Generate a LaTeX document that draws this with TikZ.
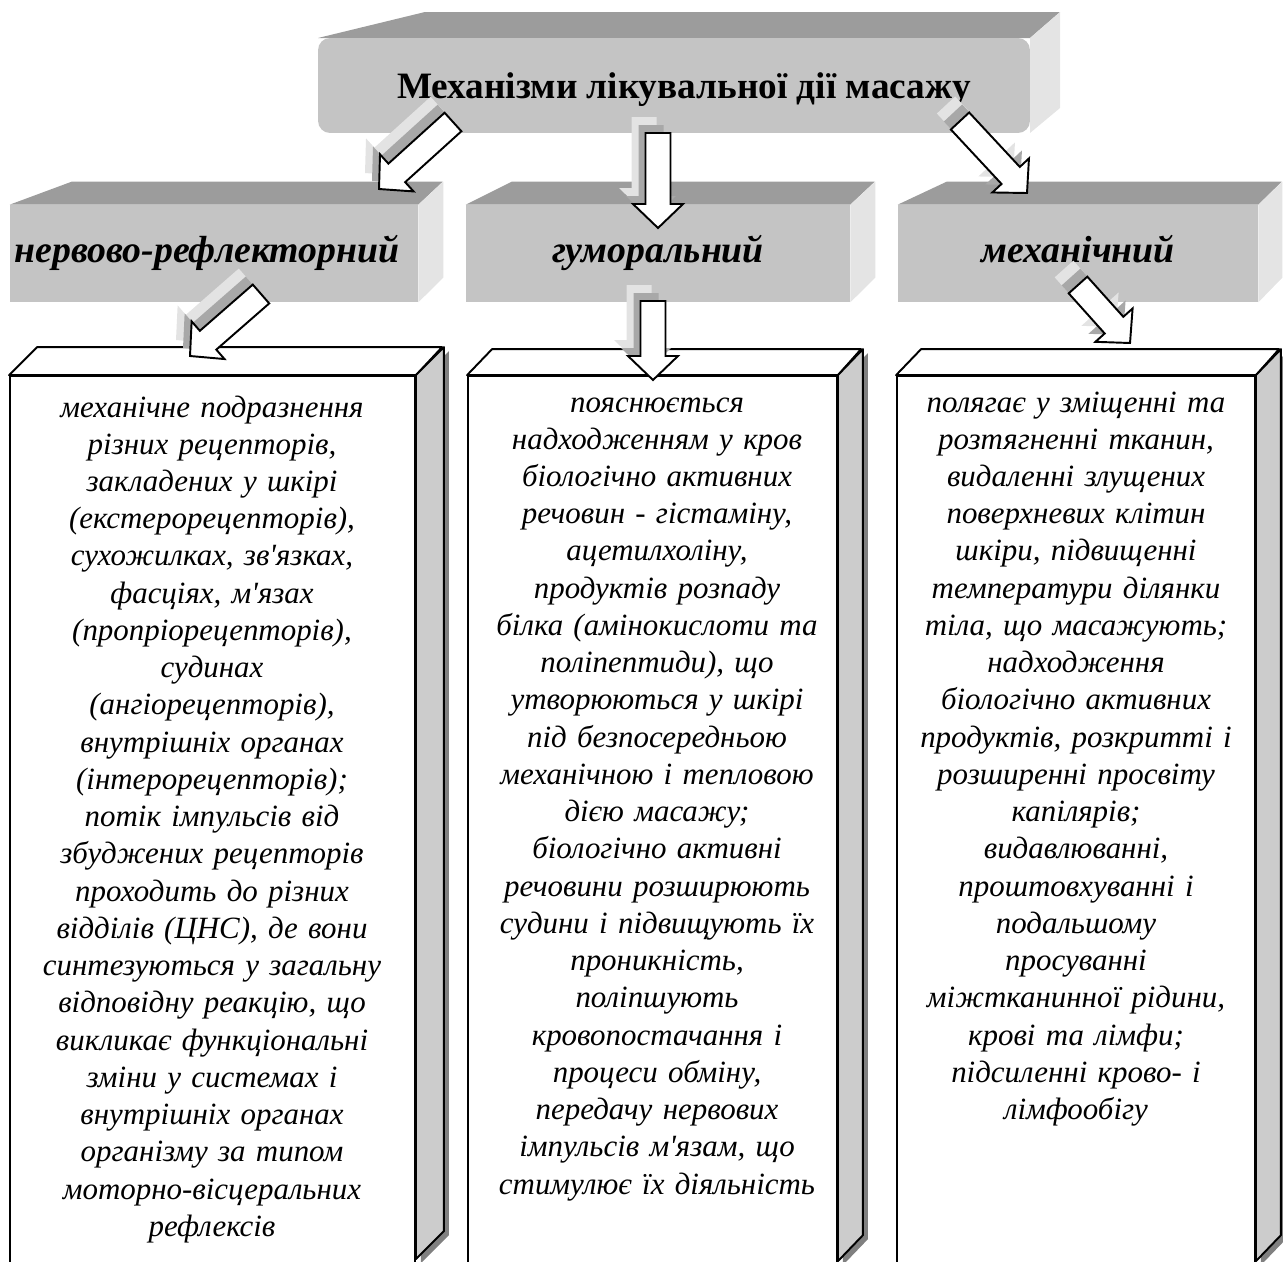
\documentclass[tikz,border=0pt]{standalone}
\usepackage{fontspec}
\setmainfont{Liberation Serif}
\usepackage{tikz}
\usetikzlibrary{calc}

\definecolor{frontgray}{HTML}{C4C4C4}
\definecolor{topgray}{HTML}{9C9C9C}
\definecolor{sidegray}{HTML}{E4E4E4}
\definecolor{wallgray}{HTML}{CCCCCC}
\definecolor{shadegray}{HTML}{808080}
\definecolor{shadelight}{HTML}{E3E3E3}
\definecolor{shademid}{HTML}{A8A8A8}

% block arrow from tail #2 to tip #3
\newcommand{\blockarrow}[3]{%
  \coordinate (hb) at ($(#3)!0.48cm!(#2)$);
  \path[#1] ($(#2)!0.25cm!90:(#3)$) -- ($(hb)!0.25cm!90:(#3)$)
    -- ($(hb)!0.5cm!90:(#3)$) -- (#3)
    -- ($(hb)!0.5cm!-90:(#3)$) -- ($(hb)!0.25cm!-90:(#3)$)
    -- ($(#2)!0.25cm!-90:(#3)$) -- cycle;}
\newcommand{\shadedarrow}[2]{%
  \begin{scope}[transform canvas={shift={(-0.28cm,0.32cm)}}]
    \blockarrow{fill=shadelight}{#1}{#2}
  \end{scope}
  \begin{scope}[transform canvas={shift={(-0.14cm,0.16cm)}}]
    \blockarrow{fill=shademid}{#1}{#2}
  \end{scope}
  \blockarrow{arrowbody}{#1}{#2}}

\begin{document}
\begin{tikzpicture}[x=0.02cm, y=-0.02cm,
  titlebox/.style={fill=frontgray, rounded corners=0.24cm, inner sep=0pt,
    minimum width=14.24cm, minimum height=1.9cm,
    text height=15pt, text depth=0pt,
    font=\fontsize{21.2}{24}\selectfont\bfseries},
  midbox/.style={fill=frontgray, inner sep=0pt, minimum height=1.94cm,
    text height=15pt, text depth=5pt,
    font=\fontsize{21.5}{24}\selectfont\bfseries\itshape},
  lowbox/.style={fill=white, draw=black, line width=1.1pt, inner sep=0pt,
    minimum height=17.78cm},
  lowtop/.style={fill=white, draw=black, line width=1.1pt, line join=round},
  lowside/.style={fill=wallgray, draw=black, line width=1.1pt, line join=round},
  bodytext/.style={anchor=base, inner sep=0pt, text width=7.9cm, align=center,
    font=\fontsize{17.6}{21.2}\selectfont\itshape},
  arrowbody/.style={fill=white, draw=black, line width=1.1pt}]

  \useasboundingbox (0,0) rectangle (1283,1261);
  \clip (0,0) rectangle (1283,1261);

  %--- Title box ------------------------------------------------------------
  \coordinate (tnw) at (318,38);
  \coordinate (tne) at (1030,38);
  \fill[topgray] (tnw) -- ++(107,-26) -- ++(635,0) -- (tne) -- cycle;
  \fill[sidegray] (tne) -- ++(30,-26) -- ++(0,96) -- (1030,133) -- cycle;
  \node[titlebox] (title) at (674,85.5)
    {\hspace*{0.4cm}Механізми лікувальної дії масажу};

  %--- Middle boxes ---------------------------------------------------------
  \node[midbox, minimum width=8.16cm] (nerv) at (214,253.5)
    {\hspace*{-0.28cm}нервово-рефлекторний};
  \fill[topgray] (nerv.north west) -- ++(62,-23) -- ++(371,0) -- (nerv.north east) -- cycle;
  \fill[sidegray] (nerv.north east) -- ++(25,-23) -- ++(0,96) -- (nerv.south east) -- cycle;

  \node[midbox, minimum width=7.68cm] (humor) at (658,253.5) {гуморальний};
  \fill[topgray] (humor.north west) -- ++(46,-23) -- ++(363,0) -- (humor.north east) -- cycle;
  \fill[sidegray] (humor.north east) -- ++(25,-23) -- ++(0,96) -- (humor.south east) -- cycle;

  \node[midbox, minimum width=7.2cm] (mech) at (1078,253.5) {механічний};
  \fill[topgray] (mech.north west) -- ++(49,-23) -- ++(335,0) -- (mech.north east) -- cycle;
  \fill[sidegray] (mech.north east) -- ++(24,-23) -- ++(0,96) -- (mech.south east) -- cycle;

  %--- Lower boxes ----------------------------------------------------------
  \node[lowbox, minimum width=8.1cm] (low1) at (212.5,820.5) {};
  \filldraw[lowtop] (low1.north west) -- ++(28,-28) -- ++(405,0) -- (low1.north east) -- cycle;
  \fill[shadegray] ($(low1.north east)+(5,4)$) -- ++(28,-28) -- ++(0,884) -- ++(-28,28) -- cycle;
  \filldraw[lowside] (low1.north east) -- ++(28,-28) -- ++(0,884) -- ++(-28,28) -- cycle;

  \node[lowbox, minimum width=7.38cm] (low2) at (652.5,820.5) {};
  \filldraw[lowtop] (low2.north west) -- ++(25,-26) -- ++(369,0) -- (low2.north east) -- cycle;
  \fill[shadegray] ($(low2.north east)+(5,4)$) -- ++(25,-26) -- ++(0,886) -- ++(-25,26) -- cycle;
  \filldraw[lowside] (low2.north east) -- ++(25,-26) -- ++(0,886) -- ++(-25,26) -- cycle;

  \node[lowbox, minimum width=7.16cm] (low3) at (1076,820.5) {};
  \filldraw[lowtop] (low3.north west) -- ++(25,-26) -- ++(358,0) -- (low3.north east) -- cycle;
  \fill[shadegray] ($(low3.north east)+(5,4)$) -- ++(25,-26) -- ++(0,886) -- ++(-25,26) -- cycle;
  \filldraw[lowside] (low3.north east) -- ++(25,-26) -- ++(0,886) -- ++(-25,26) -- cycle;

  %--- Texts ----------------------------------------------------------------
  \node[bodytext] (txt1) at (212,417) {механічне подразнення\\
    різних рецепторів,\\ закладених у шкірі\\ (екстерорецепторів),\\
    сухожилках, зв\textquotesingle язках,\\ фасціях, м\textquotesingle язах\\
    (пропріорецепторів),\\ судинах\\ (ангіорецепторів),\\
    внутрішніх органах\\ (інтерорецепторів);\\ потік імпульсів від\\
    збуджених рецепторів\\ проходить до різних\\ відділів (ЦНС), де вони\\
    синтезуються у загальну\\ відповідну реакцію, що\\
    викликає функціональні\\ зміни у системах і\\ внутрішніх органах\\
    організму за типом\\ моторно-вісцеральних\\ рефлексів};

  \node[bodytext] (txt2) at (657,412) {пояснюється\\
    надходженням у кров\\ біологічно активних\\ речовин - гістаміну,\\
    ацетилхоліну,\\ продуктів розпаду\\ білка (амінокислоти та\\
    поліпептиди), що\\ утворюються у шкірі\\ під безпосередньою\\
    механічною і тепловою\\ дією масажу;\\ біологічно активні\\
    речовини розширюють\\ судини і підвищують їх\\ проникність,\\
    поліпшують\\ кровопостачання і\\ процеси обміну,\\
    передачу нервових\\ імпульсів м\textquotesingle язам, що\\
    стимулює їх діяльність};

  \node[bodytext] (txt3) at (1076,412) {полягає у зміщенні та\\
    розтягненні тканин,\\ видаленні злущених\\ поверхневих клітин\\
    шкіри, підвищенні\\ температури ділянки\\ тіла, що масажують;\\
    надходження\\ біологічно активних\\ продуктів, розкритті і\\
    розширенні просвіту\\ капілярів;\\ видавлюванні,\\
    проштовхуванні і\\ подальшому\\ просуванні\\
    міжтканинної рідини,\\ крові та лімфи;\\ підсиленні крово- і\\
    лімфообігу};

  %--- Arrows ---------------------------------------------------------------
  \coordinate (a1s) at (453,122);  \coordinate (a1e) at (379,189);
  \coordinate (a2s) at (658,133);  \coordinate (a2e) at (658,228);
  \coordinate (a3s) at (960,121);  \coordinate (a3e) at (1027,193);
  \coordinate (a4s) at (261,294);  \coordinate (a4e) at (190,356);
  \coordinate (a5s) at (653,301);  \coordinate (a5e) at (653,380);
  \coordinate (a6s) at (1078,285); \coordinate (a6e) at (1130,343);
  \shadedarrow{a1s}{a1e}
  \shadedarrow{a2s}{a2e}
  \shadedarrow{a3s}{a3e}
  \shadedarrow{a4s}{a4e}
  \shadedarrow{a5s}{a5e}
  \shadedarrow{a6s}{a6e}

\end{tikzpicture}
\end{document}
